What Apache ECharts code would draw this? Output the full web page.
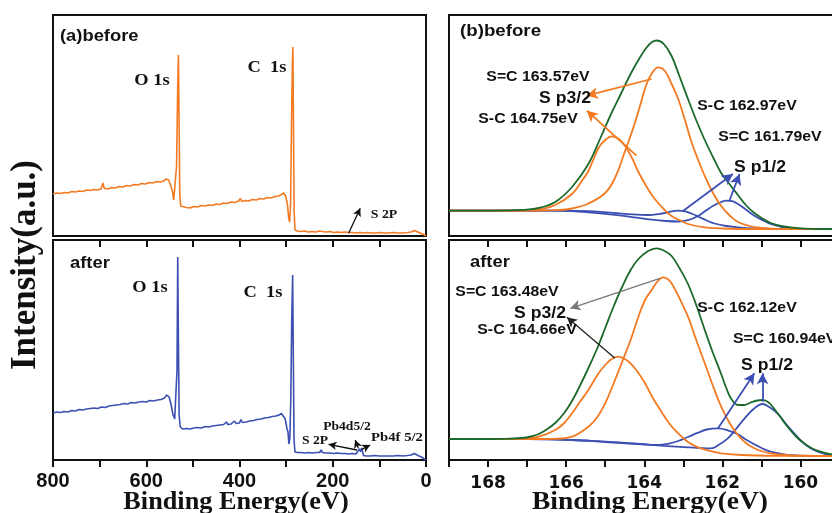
<!DOCTYPE html>
<html><head><meta charset="utf-8">
<script src="https://cdn.jsdelivr.net/npm/echarts@6/dist/echarts.min.js"></script>
<style>html,body{margin:0;padding:0;background:#fff}#c{width:832px;height:513px}</style>
</head><body><div id="c"></div>
<script>
// ---------- data ----------
const surveyTickLabels = [800, 600, 400, 200, 0];
const fitTickLabels = [168, 166, 164, 162, 160];

const surveyBefore = [[800,42],[792,43],[784,42.5],[776,43.5],[768,43],[760,44.5],[752,44],[744,45],[736,44.5],[728,46],[720,45.5],[712,46.5],[704,46],[697,47],[693,53],[690,47.5],[682,47],[674,48.5],[666,48],[658,49.5],[650,49],[642,50.5],[634,50],[626,51.5],[618,51],[610,52.5],[602,52],[594,53.5],[586,53],[578,54.5],[570,54],[563,55],[557,57],[552,56],[548,51],[544,45],[541,36],[538.5,36],[535,70],[532.5,150],[531,181],[529.5,110],[528,40],[526,30],[522,28],[514,28.5],[506,28],[498,29.5],[490,29],[482,30.5],[474,30],[466,31],[458,30.5],[450,32],[442,31.5],[434,33],[426,32.5],[418,34],[410,33.5],[402,35],[398,37.5],[395,34.5],[388,35.5],[380,35],[372,36.5],[364,36],[356,37.5],[348,37],[340,38.5],[332,38],[324,39.5],[316,40],[310,41.5],[305,43],[301,40],[297,31],[294.5,18],[292.5,14],[290.5,30],[288.5,110],[286.5,175],[285.5,189],[284.2,110],[282.8,25],[281,6],[276,5],[268,4.5],[260,5],[252,4],[244,4.5],[236,4],[228,5],[225,6.5],[222,4.5],[214,4],[206,4.5],[198,3.5],[190,4],[182,3.5],[174,4],[166,3.5],[158,3.5],[150,3],[142,3.5],[134,3],[126,3.5],[118,3],[110,3],[100,3.5],[90,3],[80,3],[70,3.5],[60,3],[50,3],[40,3.5],[32,4],[28,6],[25,5.5],[21,4],[15,3.5],[10,2.5],[5,1.5],[0,0]];

const surveyAfter = [[800,47],[792,48],[784,47.5],[776,48.5],[768,48],[760,49.5],[752,49],[744,50.5],[736,50],[728,51],[720,51.5],[712,52],[704,51.5],[696,53],[688,52.5],[680,54],[672,54.5],[664,55],[656,55.5],[648,56.5],[640,56],[632,57.5],[624,57],[616,58],[608,58.5],[600,58],[592,59.5],[584,59],[576,60],[568,60.5],[561,62],[556,65],[551,63],[547,56],[543,46],[539,41],[536,42],[534,90],[532.5,203],[531,120],[529.5,45],[527,33],[522,31],[514,31.5],[506,31],[498,32],[490,32.5],[482,32],[474,33.5],[466,33],[458,34],[450,34.5],[442,35],[434,35.5],[428,38],[425,35.5],[418,36],[411,39],[407,36.5],[400,37],[397,40.5],[394,37.5],[386,38],[378,39],[370,39.5],[362,40.5],[354,41],[346,42],[338,42.5],[330,43.5],[322,44],[315,45],[310,46.5],[306,46],[302,41],[298,31],[296,28],[294,16],[292,22],[290,60],[288,140],[286,185],[284.5,100],[283,20],[281,8],[276,7.5],[268,7.5],[260,7],[252,7.5],[244,7],[236,7.5],[228,7.5],[225,10],[222,7.5],[214,7],[206,7],[198,6.5],[190,7],[182,6.5],[174,6.5],[166,6],[158,6.5],[150,6],[146,7],[143,11],[140,8.5],[138,12],[136,8],[134,4.5],[128,4],[120,4],[110,4.5],[100,4],[90,4],[80,4],[70,4],[60,4.5],[50,4],[40,4.5],[32,5],[28,7],[25,6.5],[21,5],[15,4],[10,3],[5,1.5],[0,0]];

// S 2p fits, before
const beforeEnvelope = [[169,25.3],[168.4,25.3],[168,25.4],[167.55,25.6],[167.13,26.2],[166.7,28],[166.28,34],[165.85,49],[165.43,72],[165.1,100],[164.85,122],[164.6,142],[164.35,162],[164.15,176],[163.95,188],[163.8,194],[163.68,195.5],[163.5,192],[163.3,180],[163.1,160],[162.88,137],[162.65,114],[162.45,96],[162.24,79],[162.03,63],[161.8,51],[161.6,41],[161.4,31],[161.18,23],[160.95,17],[160.76,13],[160.5,10],[160.2,8.3],[159.9,7.4],[159.5,7],[159,7]];
const beforeSC16357 = [[169,25.3],[167.5,25.3],[166.7,25.4],[166.28,25.8],[165.85,27.5],[165.43,32.5],[165.0,43],[164.75,58],[164.5,84],[164.3,106],[164.11,130],[163.95,151],[163.8,163],[163.64,168.7],[163.47,165],[163.3,152],[163.13,137],[162.95,115],[162.79,94],[162.62,76],[162.45,60],[162.24,43],[162.03,30],[161.8,20],[161.6,14],[161.3,10],[161,8.2],[160.5,7.2],[159,7]];
const beforeSC16475 = [[169,25.3],[167.5,25.3],[167.13,25.5],[166.7,26.5],[166.28,31],[165.85,42],[165.6,55],[165.43,65],[165.17,88],[165.0,96],[164.83,99.7],[164.65,97],[164.49,90],[164.3,77],[164.15,64],[163.95,50],[163.75,38],[163.5,27],[163.3,20],[163.05,15],[162.88,12],[162.45,8.7],[162.0,7.5],[161,7],[159,7]];
const beforeSC16297 = [[169,25.3],[166,25.3],[165.4,24.8],[164.8,23.2],[164.3,21.6],[163.9,21],[163.6,22.2],[163.35,24.2],[163.13,25.3],[162.95,24.6],[162.79,22.5],[162.62,19.5],[162.4,15.5],[162.2,12.5],[161.9,10],[161.6,8.7],[161.2,7.6],[160.76,7.1],[159,7]];
const beforeSC16179 = [[169,25.3],[166.3,25.3],[165.85,24.8],[165.43,23.7],[165.0,22.2],[164.58,20.3],[164.2,18.3],[163.81,16.3],[163.45,15],[163.13,14.5],[162.88,15.8],[162.62,20],[162.4,26],[162.2,31],[162.03,34],[161.9,35.3],[161.75,34.8],[161.6,32],[161.4,26.5],[161.18,20.3],[160.95,15.5],[160.76,12],[160.5,9.2],[160.33,7.8],[159.9,7],[159,7]];

// S 2p fits, after
const afterEnvelope = [[169,21],[168,21],[167.55,21.1],[167.13,22],[166.9,23.5],[166.7,26],[166.5,30.5],[166.28,37],[166.05,47],[165.85,59],[165.65,74],[165.43,92],[165.2,112],[165.0,132],[164.8,152],[164.58,172],[164.35,190],[164.15,201],[163.9,209],[163.69,211.7],[163.5,209.5],[163.3,204],[163.1,192],[162.88,176],[162.65,153],[162.45,130],[162.24,107],[162.03,86],[161.9,72],[161.77,61],[161.6,55],[161.45,55],[161.27,57.5],[161.1,59.5],[160.97,60],[160.85,58.5],[160.76,55.5],[160.55,45],[160.33,33.3],[160.1,23],[159.91,16.7],[159.7,11.5],[159.48,8.3],[159.27,6],[159,5]];
const afterSC16348 = [[169,21],[167,21],[166.28,21.2],[165.85,23.3],[165.43,33.3],[165.2,43],[165.0,56.7],[164.8,75],[164.58,96.7],[164.35,120],[164.15,143.3],[163.98,160],[163.81,170],[163.65,179],[163.52,182.7],[163.4,181],[163.3,176.7],[163.1,162],[162.88,143.3],[162.65,118],[162.45,96.7],[162.24,74],[162.03,53.3],[161.8,36],[161.6,25],[161.4,17],[161.18,11.7],[160.97,8.5],[160.76,6.7],[160.4,5],[159.9,4.3],[159,4]];
const afterSC16466 = [[169,21],[167.5,21],[167.13,21.3],[166.7,23.3],[166.28,30],[166.05,37],[165.85,46.7],[165.65,58],[165.43,70],[165.2,85],[165.0,95],[164.85,100.5],[164.68,103.3],[164.52,101.5],[164.35,96.7],[164.15,87],[163.98,76.7],[163.78,62],[163.56,48.3],[163.35,36],[163.13,26.7],[162.88,18],[162.62,12.7],[162.3,8.8],[162.03,6.7],[161.5,5],[160.5,4.2],[159,4]];
const afterSC16212 = [[169,21],[167,20.8],[165.85,20],[165.2,18.8],[164.58,17.3],[164.1,16],[163.73,15],[163.4,16.2],[163.13,19],[162.88,23],[162.62,27.3],[162.4,30.5],[162.12,31.7],[161.9,30.2],[161.6,25.7],[161.4,20.5],[161.18,15.7],[160.97,11.5],[160.76,8.3],[160.5,6.2],[160.33,5],[159.9,4.2],[159,4]];
const afterSC16094 = [[169,21],[167,20.8],[165.85,20],[165,18],[164.15,16],[163.5,14.2],[162.88,12.7],[162.5,11.9],[162.29,11.7],[162.1,15],[161.86,21.7],[161.65,31],[161.43,41.7],[161.2,51],[160.97,56],[160.8,53],[160.59,46.7],[160.38,36.5],[160.16,26.7],[159.95,18],[159.74,11.7],[159.5,7.5],[159.27,5],[159,4]];

// annotation arrows [from, to] in data units
const arrowsSurveyBefore = [[[166,2.7],[141,27.7]]];
const arrowsSurveyAfter = [[[148,10],[209,15.7]],[[145,11.7],[152,20]],[[137.6,10.7],[119.7,15]]];
const arrowsFitBeforeOrange = [[[163.81,157],[165.47,140.3]],[[164.2,80.3],[165.47,125.3]]];
const arrowsFitBeforeBlue = [[[163.0,25.3],[161.73,62]],[[161.82,35.3],[161.56,62]]];
const arrowsFitAfterGray = [[[163.6,181.7],[165.89,151.7]]];
const arrowsFitAfterBlack = [[[164.75,101.7],[165.98,142.7]]];
const arrowsFitAfterBlue = [[[162.11,31.7],[161.18,86.7]],[[160.97,58.3],[160.97,86.7]]];

// ---------- chart ----------
const ORANGE = '#f47a22', BLUE = '#3c4fb2', GREEN = '#1c6a2c', INK = '#111';
const chart = echarts.init(document.getElementById('c'), null, {renderer: 'canvas'});

function arrowMark(list, color, width, size) {
  const sz = size || 10;
  return {
    silent: true, animation: false, symbol: ['none', 'arrow'], symbolSize: sz, precision: 4,
    label: {show: false}, emphasis: {disabled: true},
    lineStyle: {color: color, width: width || 1.6, type: 'solid'},
    itemStyle: {color: color},
    data: list.map(a => [
      {coord: a[0], symbol: 'none', symbolSize: 0},
      {coord: a[1], symbol: 'arrow', symbolSize: [sz * 0.8, sz]}
    ])
  };
}
function line(data, color, xi, yi, opts) {
  opts = opts || {};
  const s = {
    type: 'line', data: data, xAxisIndex: xi, yAxisIndex: yi, showSymbol: false,
    smooth: opts.smooth || false, lineStyle: {color: color, width: opts.width || 1.8},
    itemStyle: {color: color}, emphasis: {disabled: true}, silent: true, z: opts.z || 2, animation: false
  };
  if (opts.mark) s.markLine = opts.mark;
  return s;
}
const gridBase = {show: true, borderColor: INK, borderWidth: 2, backgroundColor: 'transparent', containLabel: false, outerBoundsMode: 'none'};
const surveyX = {type: 'value', min: 0, max: 800, interval: 100, inverse: true, splitLine: {show: false}, axisLine: {show: false}};
const fitX = {type: 'value', min: 159, max: 169, interval: 1, inverse: true, splitLine: {show: false}, axisLine: {show: false}};
const tick = (inside) => ({show: true, inside: inside, length: 7, lineStyle: {color: INK, width: 2}});

function txt(s, x, y, font, o) {
  o = o || {};
  return {type: 'text', x: x, y: y, scaleX: o.sx || 1, rotation: o.rot || 0, silent: true, z: 100,
    style: {text: s, font: font, fill: o.fill || INK, textAlign: o.align || 'center', align: o.align || 'center',
      textVerticalAlign: 'middle', verticalAlign: 'middle'}};
}
const SANS = '"Liberation Sans", Arial, sans-serif';
const SERIF = '"Liberation Serif", "Times New Roman", serif';

chart.setOption({
  animation: false,
  grid: [
    Object.assign({left: 53, top: 15, width: 373, height: 221}, gridBase),
    Object.assign({left: 53, top: 240, width: 373, height: 220}, gridBase),
    Object.assign({left: 449, top: 15, width: 390.5, height: 221}, gridBase),
    Object.assign({left: 449, top: 240, width: 390.5, height: 220}, gridBase)
  ],
  xAxis: [
    Object.assign({gridIndex: 0, position: 'bottom', axisTick: {show: false}, axisLabel: {show: false}}, surveyX),
    Object.assign({gridIndex: 1, position: 'bottom', axisTick: tick(false),
      axisLabel: {show: true, margin: 11, fontFamily: 'Liberation Sans', fontWeight: 'bold', fontSize: 20, color: INK,
        formatter: v => surveyTickLabels.includes(Math.round(v)) ? String(Math.round(v)) : ''}}, surveyX),
    Object.assign({gridIndex: 1, position: 'top', axisTick: tick(true), axisLabel: {show: false}}, surveyX),
    Object.assign({gridIndex: 2, position: 'bottom', axisTick: {show: false}, axisLabel: {show: false}}, fitX),
    Object.assign({gridIndex: 3, position: 'bottom', axisTick: tick(false),
      axisLabel: {show: true, margin: 15, fontFamily: 'DejaVu Sans', fontWeight: 'bold', fontSize: 17, color: INK,
        formatter: v => fitTickLabels.includes(Math.round(v)) ? String(Math.round(v)) : ''}}, fitX),
    Object.assign({gridIndex: 3, position: 'top', axisTick: tick(true), axisLabel: {show: false}}, fitX)
  ],
  yAxis: [
    {gridIndex: 0, type: 'value', min: 0, max: 221, show: false},
    {gridIndex: 1, type: 'value', min: 0, max: 220, show: false},
    {gridIndex: 2, type: 'value', min: 0, max: 221, show: false},
    {gridIndex: 3, type: 'value', min: 0, max: 220, show: false}
  ],
  series: [
    line(surveyBefore, ORANGE, 0, 0, {width: 1.6, mark: arrowMark(arrowsSurveyBefore, INK, 1.3, 8)}),
    line(surveyAfter, BLUE, 1, 1, {width: 1.6, mark: arrowMark(arrowsSurveyAfter, INK, 1.3, 8)}),

    line(beforeSC16297, BLUE, 3, 2, {smooth: 0.4, z: 2}),
    line(beforeSC16179, BLUE, 3, 2, {smooth: 0.4, z: 2, mark: arrowMark(arrowsFitBeforeBlue, BLUE, 1.8, 11)}),
    line(beforeSC16475, ORANGE, 3, 2, {smooth: 0.4, z: 3}),
    line(beforeSC16357, ORANGE, 3, 2, {smooth: 0.4, z: 3, mark: arrowMark(arrowsFitBeforeOrange, ORANGE, 1.8, 11)}),
    line(beforeEnvelope, GREEN, 3, 2, {smooth: 0.4, z: 4}),

    line(afterSC16212, BLUE, 4, 3, {smooth: 0.4, z: 2}),
    line(afterSC16094, BLUE, 4, 3, {smooth: 0.4, z: 2, mark: arrowMark(arrowsFitAfterBlue, BLUE, 1.8, 11)}),
    line(afterSC16466, ORANGE, 4, 3, {smooth: 0.4, z: 3, mark: arrowMark(arrowsFitAfterBlack, '#222', 1.3, 10)}),
    line(afterSC16348, ORANGE, 4, 3, {smooth: 0.4, z: 3, mark: arrowMark(arrowsFitAfterGray, '#777', 1.3, 10)}),
    line(afterEnvelope, GREEN, 4, 3, {smooth: 0.4, z: 4})
  ],
  graphic: [
    txt('Intensity(a.u.)', 26, 265, 'bold 35px ' + SERIF, {rot: Math.PI / 2}),
    txt('Binding Energy(eV)', 236, 503, 'bold 25px ' + SERIF, {sx: 1.05}),
    txt('Binding Energy(eV)', 650, 503, 'bold 25px ' + SERIF, {sx: 1.1}),

    txt('(a)before', 60, 36, 'bold 17px ' + SANS, {align: 'left', sx: 1.08}),
    txt('O 1s', 152, 81, 'bold 16px ' + SERIF, {sx: 1.15}),
    txt('C  1s', 267, 68, 'bold 16px ' + SERIF, {sx: 1.15}),
    txt('S 2P', 384, 215, 'bold 12px ' + SERIF, {sx: 1.15}),

    txt('after', 70, 263, 'bold 17px ' + SANS, {align: 'left', sx: 1.08}),
    txt('O 1s', 150, 288, 'bold 16px ' + SERIF, {sx: 1.15}),
    txt('C  1s', 263, 293, 'bold 16px ' + SERIF, {sx: 1.15}),
    txt('Pb4d5/2', 347, 427, 'bold 12px ' + SERIF, {sx: 1.13}),
    txt('S 2P', 315, 441, 'bold 12px ' + SERIF, {sx: 1.13}),
    txt('Pb4f 5/2', 397, 438, 'bold 13px ' + SERIF, {sx: 1.13}),

    txt('(b)before', 460, 31, 'bold 17px ' + SANS, {align: 'left', sx: 1.1}),
    txt('S=C 163.57eV', 538, 77, 'bold 14px ' + SANS, {sx: 1.13}),
    txt('S p3/2', 565, 99, 'bold 16px ' + SANS, {sx: 1.1}),
    txt('S-C 164.75eV', 528, 119, 'bold 14px ' + SANS, {sx: 1.13}),
    txt('S-C 162.97eV', 747, 106, 'bold 14px ' + SANS, {sx: 1.13}),
    txt('S=C 161.79eV', 770, 137, 'bold 14px ' + SANS, {sx: 1.13}),
    txt('S p1/2', 760, 168, 'bold 16px ' + SANS, {sx: 1.1}),

    txt('after', 470, 262, 'bold 17px ' + SANS, {align: 'left', sx: 1.08}),
    txt('S=C 163.48eV', 507, 292, 'bold 14px ' + SANS, {sx: 1.13}),
    txt('S p3/2', 540, 314, 'bold 16px ' + SANS, {sx: 1.1}),
    txt('S-C 164.66eV', 527, 330, 'bold 14px ' + SANS, {sx: 1.13}),
    txt('S-C 162.12eV', 747, 308, 'bold 14px ' + SANS, {sx: 1.13}),
    txt('S=C 160.94eV', 733, 339, 'bold 14px ' + SANS, {align: 'left', sx: 1.13}),
    txt('S p1/2', 767, 366, 'bold 16px ' + SANS, {sx: 1.1})
  ]
});
</script></body></html>
